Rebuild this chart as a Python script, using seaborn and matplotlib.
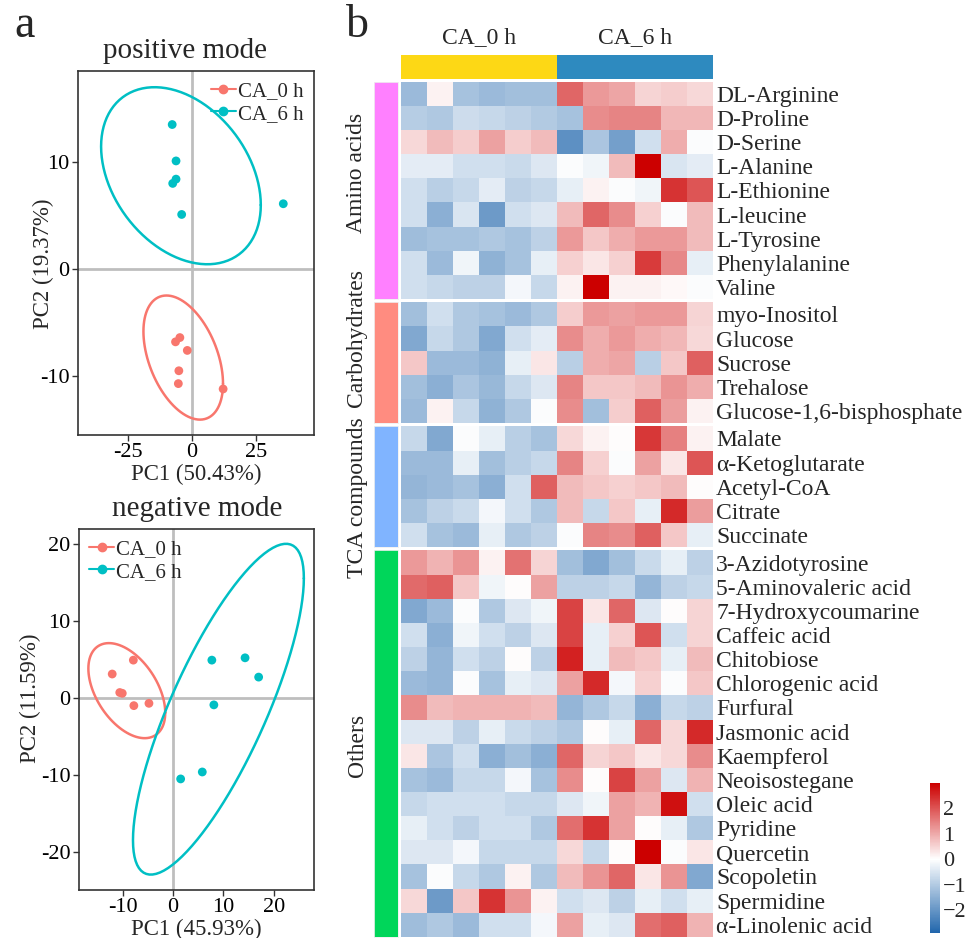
import numpy as np
import pandas as pd
import matplotlib
matplotlib.use('Agg')
import matplotlib.pyplot as plt
import seaborn as sns
from matplotlib.colors import LinearSegmentedColormap, Normalize
from matplotlib.lines import Line2D

# PCA scores, positive mode
pos_0h_pc1 = [-4.7, -6.4, -1.8, -5.1, -5.3, 12.2]
pos_0h_pc2 = [-6.4, -6.8, -7.6, -9.5, -10.7, -11.2]
pos_6h_pc1 = [-7.7, -6.2, -6.2, -7.5, -4.0, 35.7]
pos_6h_pc2 = [13.5, 10.1, 8.4, 8.0, 5.1, 6.1]

# PCA scores, negative mode
neg_0h_pc1 = [-12.1, -10.6, -10.1, -7.9, -7.8, -4.8]
neg_0h_pc2 = [3.1, 0.7, 0.6, 4.9, -1.0, -0.7]
neg_6h_pc1 = [7.7, 14.3, 17.0, 8.1, 1.5, 5.8]
neg_6h_pc2 = [4.9, 5.2, 2.7, -0.9, -10.5, -9.6]

groups = ['CA_0 h', 'CA_6 h']

# heatmap (row z-scores), 6 samples per group
amino_names = ['DL-Arginine', 'D-Proline', 'D-Serine', 'L-Alanine', 'L-Ethionine',
               'L-leucine', 'L-Tyrosine', 'Phenylalanine', 'Valine']
amino_vals = [
    [-1.3, 0.15, -1.15, -1.3, -1.2, -1.2, 1.8, 1.2, 1.05, 0.5, 0.6, 0.45],
    [-0.95, -1.05, -0.65, -0.75, -0.85, -1.0, -1.15, 1.35, 1.45, 1.45, 0.85, 0.85],
    [0.45, 0.8, 0.6, 1.1, 0.6, 0.8, -2.1, -1.1, -1.8, -0.6, 0.95, -0.05],
    [-0.35, -0.35, -0.6, -0.6, -0.7, -0.45, -0.05, -0.2, 0.8, 3.0, -0.5, -0.35],
    [-0.6, -0.9, -0.75, -0.35, -0.85, -0.75, -0.3, 0.15, -0.05, -0.2, 2.4, 2.0],
    [-0.6, -1.5, -0.5, -1.9, -0.6, -0.45, 0.8, 1.8, 1.35, 0.55, -0.05, 0.8],
    [-1.25, -1.15, -1.15, -1.05, -1.15, -0.85, 1.2, 0.65, 0.95, 1.2, 1.2, 0.8],
    [-0.6, -1.3, -0.2, -1.45, -1.15, -0.3, 0.55, 0.3, 0.55, 2.3, 1.4, -0.3],
    [-0.6, -0.75, -0.85, -0.85, -0.15, -0.75, 0.15, 3.0, 0.15, 0.15, 0.08, -0.05],
]
carb_names = ['myo-Inositol', 'Glucose', 'Sucrose', 'Trehalose', 'Glucose-1,6-bisphosphate']
carb_vals = [
    [-1.2, -0.6, -1.05, -1.15, -1.3, -1.05, 0.6, 1.2, 1.1, 1.2, 1.2, 0.5],
    [-1.65, -0.75, -1.05, -1.65, -0.6, -0.35, 1.35, 0.95, 1.2, 0.95, 0.85, 0.45],
    [0.65, -1.3, -1.3, -1.45, -0.3, 0.3, -0.9, 0.95, 1.05, -0.9, 0.65, 1.85],
    [-1.2, -1.5, -1.1, -1.35, -0.75, -0.45, 1.45, 0.65, 0.65, 0.8, 1.25, 0.95],
    [-1.3, 0.15, -0.75, -1.45, -1.05, -0.05, 1.35, -1.2, 0.6, 1.85, 1.15, 0.15],
]
tca_names = ['Malate', 'α-Ketoglutarate', 'Acetyl-CoA', 'Citrate', 'Succinate']
tca_vals = [
    [-0.75, -1.65, -0.05, -0.3, -0.9, -1.15, 0.45, 0.15, 0.05, 2.35, 1.5, 0.15],
    [-1.3, -1.3, -0.3, -1.2, -0.9, -0.75, 1.45, 0.55, -0.05, 1.1, 0.3, 2.0],
    [-1.4, -1.3, -1.15, -1.5, -0.6, 1.85, 0.8, 0.65, 0.55, 0.65, 0.8, 0.05],
    [-1.15, -0.85, -0.7, -0.15, -0.6, -1.05, 0.8, -0.75, 0.65, -0.3, 2.5, 1.15],
    [-0.6, -1.15, -1.3, -0.3, -1.05, -0.85, -0.05, 1.45, 1.35, 1.85, 0.65, -0.3],
]
other_names = ['3-Azidotyrosine', '5-Aminovaleric acid', '7-Hydroxycoumarine', 'Caffeic acid',
               'Chitobiose', 'Chlorogenic acid', 'Furfural', 'Jasmonic acid', 'Kaempferol',
               'Neoisostegane', 'Oleic acid', 'Pyridine', 'Quercetin', 'Scopoletin',
               'Spermidine', 'α-Linolenic acid']
other_vals = [
    [1.2, 0.9, 1.25, 0.15, 1.65, 0.5, -1.2, -1.65, -1.2, -0.7, -0.3, -0.85],
    [1.75, 1.85, 0.65, -0.2, 0.05, 1.1, -0.85, -0.85, -0.75, -1.4, -0.85, -0.75],
    [-1.65, -1.3, -0.05, -1.05, -0.45, -0.2, 2.2, 0.3, 1.8, -0.45, 0.05, 0.5],
    [-0.6, -1.5, -0.2, -0.6, -0.85, -0.45, 2.2, -0.3, 0.55, 2.0, -0.6, 0.5],
    [-0.85, -1.4, -0.6, -0.85, 0.05, -0.85, 2.6, -0.3, 0.8, 0.65, -0.3, 0.8],
    [-1.3, -1.4, -0.05, -1.15, -0.3, -0.45, 1.1, 2.5, -0.15, 0.55, -0.05, 0.65],
    [1.35, 0.8, 0.9, 0.9, 0.9, 0.8, -1.4, -1.05, -0.75, -1.5, -0.75, -0.85],
    [-0.45, -0.45, -0.85, -0.3, -0.7, -0.85, -1.05, 0.05, -0.3, 1.8, 0.45, 2.5],
    [0.3, -1.1, -0.6, -1.5, -1.2, -1.5, 1.8, 0.5, 0.65, 0.3, 0.45, 1.35],
    [-1.15, -1.3, -0.75, -0.75, -0.15, -1.15, 1.35, 0.05, 2.2, 1.1, -0.45, 0.9],
    [-0.75, -0.6, -0.6, -0.6, -0.75, -0.75, -0.45, -0.2, 1.1, 0.9, 2.8, -0.6],
    [-0.3, -0.6, -0.85, -0.6, -0.6, -1.05, 1.7, 2.4, 1.1, 0.05, -0.3, -1.05],
    [-0.45, -0.45, -0.15, -0.75, -0.75, -0.75, 0.45, -0.75, 0.05, 3.0, -0.05, 0.3],
    [-1.15, -0.05, -0.75, -1.05, 0.15, -1.05, 0.8, 1.25, 1.8, 0.3, 1.25, -1.65],
    [0.45, -1.9, 0.65, 2.4, 1.25, 0.15, -0.6, -0.45, -0.85, -0.3, -0.6, -0.3],
    [-1.25, -1.05, -1.3, -0.6, -0.6, -0.15, 1.1, -0.3, -0.45, 1.7, 1.85, 0.9],
]
class_labels = ['Amino acids', 'Carbohydrates', 'TCA compounds', 'Others']
class_colors = ['#FF80FF', '#FF8C80', '#80B4FF', '#00D65A']
class_label_y = [173, 338, 498, 745]  # pixel centre of the rotated labels
group_colors = ['#FDD815', '#2E8ABF']

W, H = 973, 938


def rect(x0, y0, x1, y1):
    # pixel box -> figure fraction
    return [x0 / W, 1 - y1 / H, (x1 - x0) / W, (y1 - y0) / H]


def trob_ellipse(x, y, nu=5, fq=5.786135, segments=101):
    # same as ggplot2 stat_ellipse (type = "t", level = 0.95)
    X = np.column_stack([x, y])
    n, p = X.shape
    loc = X.mean(axis=0)
    w = np.ones(n)
    for _ in range(25):
        w0 = w
        Xc = X - loc
        S = (Xc * (w / w.sum())[:, None]).T @ Xc
        Q = np.einsum('ij,jk,ik->i', Xc, np.linalg.inv(S), Xc)
        w = (nu + p) / (nu + Q)
        loc = (w[:, None] * X).sum(axis=0) / w.sum()
        if np.all(np.abs(w - w0) < 0.01):
            break
    cov = (Xc * w[:, None]).T @ Xc / n
    t = np.linspace(0, 2 * np.pi, segments)
    circle = np.column_stack([np.cos(t), np.sin(t)])
    ell = loc + np.sqrt(2 * fq) * circle @ np.linalg.cholesky(cov).T
    return ell[:, 0], ell[:, 1]


sns.set_theme(style='white')
plt.rcParams['font.family'] = ['Liberation Serif', 'DejaVu Serif']
plt.rcParams['axes.unicode_minus'] = False

pal = {'CA_0 h': '#F8766D', 'CA_6 h': '#00BFC4'}
fig = plt.figure(figsize=(W / 100, H / 100), dpi=100)

pca_sets = [
    ('positive mode', rect(78, 71, 314, 435), pos_0h_pc1, pos_0h_pc2, pos_6h_pc1, pos_6h_pc2,
     'PC1 (50.43%)', 'PC2 (19.37%)', (-44.5, 47.7), (-15.5, 18.5), [-25, 0, 25], [-10, 0, 10],
     'upper right', (185, 51), (-0.102, 0.47)),
    ('negative mode', rect(79, 529, 314, 890), neg_0h_pc1, neg_0h_pc2, neg_6h_pc1, neg_6h_pc2,
     'PC1 (45.93%)', 'PC2 (11.59%)', (-18.7, 28.0), (-24.9, 21.9), [-10, 0, 10, 20],
     [-20, -10, 0, 10, 20], 'upper left', (197, 509), (-0.162, 0.53)),
]

for (title, box, x0, y0, x6, y6, xl, yl, xlim, ylim, xt, yt, leg_loc,
     title_xy, ylab_xy) in pca_sets:
    ax = fig.add_axes(box)
    df = pd.DataFrame({'PC1': x0 + x6, 'PC2': y0 + y6,
                       'group': [groups[0]] * len(x0) + [groups[1]] * len(x6)})
    ax.axhline(0, color='#BEBEBE', lw=2, zorder=0)
    ax.axvline(0, color='#BEBEBE', lw=2, zorder=0)
    sns.scatterplot(data=df, x='PC1', y='PC2', hue='group', palette=pal, s=40,
                    edgecolor='none', legend=False, ax=ax, zorder=3)
    for g in groups:
        sub = df[df['group'] == g]
        ex, ey = trob_ellipse(sub['PC1'].values, sub['PC2'].values)
        ax.plot(ex, ey, color=pal[g], lw=1.8)
    ax.set_xlim(*xlim)
    ax.set_ylim(*ylim)
    ax.set_xticks(xt)
    ax.set_yticks(yt)
    ax.tick_params(labelsize=16, length=4, width=1, color='#333333', colors='black',
                   direction='out', bottom=True, left=True, pad=2)
    for s in ax.spines.values():
        s.set_color('#333333')
        s.set_linewidth(1.2)
    ax.set_xlabel(xl, fontsize=16.5, labelpad=1)
    ax.set_ylabel(yl, fontsize=16.5)
    ax.yaxis.set_label_coords(*ylab_xy)
    fig.text(title_xy[0] / W, 1 - title_xy[1] / H, title, fontsize=21,
             ha='center', va='center')
    handles = [Line2D([], [], color=pal[g], marker='o', markersize=6, lw=1.5) for g in groups]
    ax.legend(handles, groups, loc=leg_loc, frameon=False, fontsize=15, handlelength=1.2,
              handletextpad=0.1, labelspacing=0.15, borderaxespad=0.3, borderpad=0.2)

fig.text(25 / W, 1 - 26 / H, 'a', fontsize=33, ha='center', va='center')
fig.text(357 / W, 1 - 26 / H, 'b', fontsize=33, ha='center', va='center')

# heatmap
cmap = LinearSegmentedColormap.from_list(
    'bwr_custom', [(0, '#2166AC'), (2.9 / 5.9, '#FFFFFF'), (1, '#CC0000')])
vmin, vmax = -2.9, 3.0
row_h, gap, top = 24.15, 3.3, 81.7
hx0, hx1 = 400.7, 713.3
sample_cols = [f'{g}_{i + 1}' for g in groups for i in range(6)]

blocks = [(amino_names, amino_vals), (carb_names, carb_vals),
          (tca_names, tca_vals), (other_names, other_vals)]
y = top
for k, (names, vals) in enumerate(blocks):
    y1 = y + row_h * len(names)
    ax = fig.add_axes(rect(hx0, y, hx1, y1))
    mat = pd.DataFrame(vals, index=names, columns=sample_cols)
    sns.heatmap(mat, cmap=cmap, vmin=vmin, vmax=vmax, cbar=False, ax=ax,
                xticklabels=False, yticklabels=True)
    ax.yaxis.tick_right()
    ax.tick_params(axis='y', length=0, pad=2, labelsize=17, labelrotation=0)
    ax.set_ylabel('')
    ax.set_xlabel('')
    # class annotation bar
    aax = fig.add_axes(rect(374, y, 397.7, y1))
    aax.set_facecolor(class_colors[k])
    aax.set_xticks([])
    aax.set_yticks([])
    for s in aax.spines.values():
        s.set_color('#F0F0F0')
        s.set_linewidth(0.6)
    fig.text(357 / W, 1 - class_label_y[k] / H, class_labels[k], rotation=90, fontsize=17,
             ha='center', va='center')
    y = y1 + gap

# column annotation
cax_top = fig.add_axes(rect(hx0, 55, hx1, 79))
col_groups = pd.DataFrame([[0] * 6 + [1] * 6], columns=sample_cols)
sns.heatmap(col_groups, cmap=matplotlib.colors.ListedColormap(group_colors), cbar=False,
            ax=cax_top, xticklabels=False, yticklabels=False)
for i, g in enumerate(groups):
    fig.text((hx0 + (hx1 - hx0) * (0.25 + 0.5 * i)) / W, 1 - 38 / H, g, fontsize=17,
             ha='center', va='center')

# colour key
kax = fig.add_axes(rect(930, 783, 940, 933))
cb = matplotlib.colorbar.ColorbarBase(kax, cmap=cmap, norm=Normalize(vmin, vmax))
cb.outline.set_visible(False)
cb.set_ticks([-2, -1, 0, 1, 2])
cb.set_ticklabels(['\u22122', '\u22121', '0', '1', '2'])
kax.tick_params(length=0, labelsize=16, pad=2)

fig.savefig('out.png', dpi=100)
